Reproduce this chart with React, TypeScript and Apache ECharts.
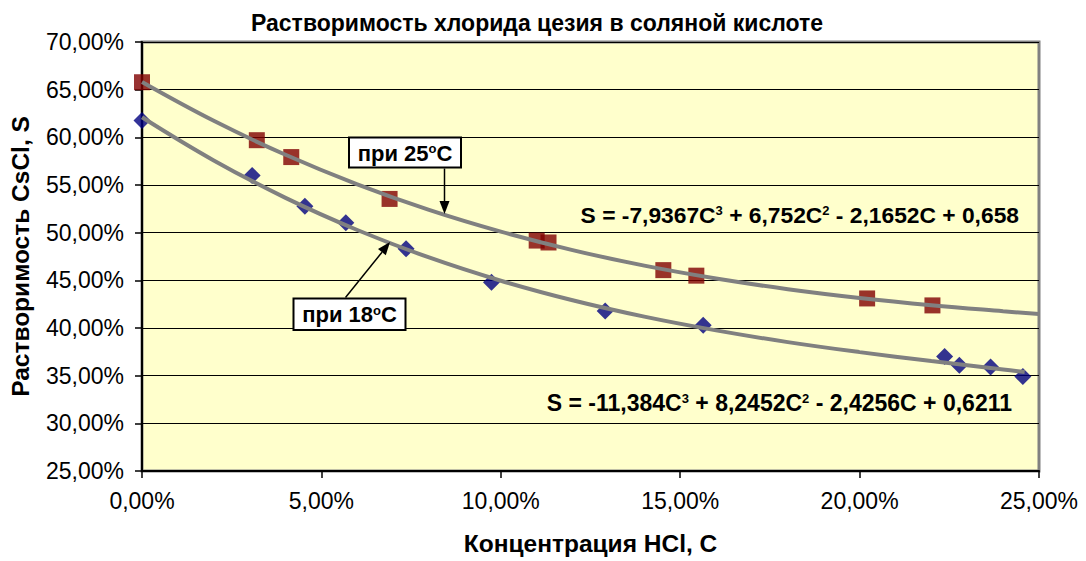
import React, { useEffect, useRef } from "react";
import * as echarts from "echarts";

// 25 °C data (concentration HCl, %; solubility CsCl, %)
const conc25 = [0, 3.2, 4.16, 6.9, 11.0, 11.33, 14.53, 15.45, 20.21, 22.03];
const sol25 = [65.78, 59.7, 57.93, 53.54, 49.17, 48.97, 46.07, 45.49, 43.1, 42.37];

// 18 °C data
const conc18 = [0, 3.07, 4.54, 5.68, 7.36, 9.74, 12.91, 15.64, 22.37, 22.78, 23.65, 24.55];
const sol18 = [61.77, 56.0, 52.77, 51.03, 48.3, 44.8, 41.78, 40.28, 37.0, 36.1, 35.9, 34.91];

// Trend lines
const trendX25 = [0, 2, 4, 6, 8, 10, 12, 14, 16, 18, 20, 22, 24, 25];
const trend25 = [65.8, 61.73, 58.17, 55.07, 52.39, 50.11, 48.17, 46.54, 45.19, 44.07, 43.15, 42.39, 41.76, 41.47];
const trendX18 = [0, 2, 4, 6, 8, 10, 12, 14, 16, 18, 20, 22, 24, 24.6];
const trend18 = [62.11, 57.58, 53.65, 50.28, 47.4, 44.96, 42.91, 41.19, 39.75, 38.52, 37.47, 36.53, 35.65, 35.39];

const title = "Растворимость хлорида цезия в соляной кислоте";
const xName = "Концентрация HCl, C";
const yName = "Растворимость CsCl, S";
const eq25 = "S = -7,9367C{sup|3} + 6,752C{sup|2} - 2,1652C + 0,658";
const eq18 = "S = -11,384C{sup|3} + 8,2452C{sup|2} - 2,4256C + 0,6211";
const label25 = "при 25{sup|o}C";
const label18 = "при 18{sup|o}C";

const FONT = "'Liberation Sans', Arial, sans-serif";

const pct = (v: number) => v.toFixed(2).replace(".", ",") + "%";
const zip = (xs: number[], ys: number[]) => xs.map((x, i) => [x, ys[i]]);

export default function App() {
  const ref = useRef<HTMLDivElement>(null);
  useEffect(() => {
    document.body.style.margin = "0";
    const chart = echarts.init(ref.current!, null, { renderer: "svg" });
    const supRich = {
      sup: { fontSize: 13, fontWeight: "bold", fontFamily: FONT, verticalAlign: "top", lineHeight: 22 },
    };
    const boldText = (x: number, y: number, text: string, align: string, size: number) => ({
      type: "text",
      x,
      y,
      z: 110,
      style: {
        text,
        fill: "#000",
        fontSize: size,
        fontWeight: "bold",
        fontFamily: FONT,
        align,
        verticalAlign: "middle",
        lineHeight: 22,
        rich: supRich,
      },
    });
    chart.setOption({
      animation: false,
      backgroundColor: "#ffffff",
      title: {
        text: title,
        left: 246,
        top: 6,
        textStyle: { fontSize: 23, fontWeight: "bold", fontFamily: FONT, color: "#000" },
      },
      grid: {
        left: 137,
        right: 47,
        top: 42,
        bottom: 89,
        show: true,
        backgroundColor: "#FFFFCC",
        borderColor: "#808080",
        borderWidth: 3,
      },
      xAxis: {
        type: "value",
        min: 0,
        max: 25,
        interval: 5,
        name: xName,
        nameLocation: "middle",
        nameGap: 60,
        nameTextStyle: { fontSize: 24.5, fontWeight: "bold", fontFamily: FONT, color: "#000" },
        axisLine: { show: true, onZero: false, lineStyle: { color: "#000", width: 2 } },
        axisTick: { show: true, inside: false, length: 7, lineStyle: { color: "#000", width: 1.5 } },
        axisLabel: { formatter: pct, fontSize: 23, fontFamily: FONT, color: "#000", margin: 18 },
        splitLine: { show: false },
      },
      yAxis: {
        type: "value",
        min: 25,
        max: 70,
        interval: 5,
        name: yName,
        nameLocation: "middle",
        nameGap: 109,
        nameTextStyle: { fontSize: 24.5, fontWeight: "bold", fontFamily: FONT, color: "#000" },
        axisLine: { show: true, onZero: false, lineStyle: { color: "#000", width: 2 } },
        axisTick: { show: true, inside: false, length: 7, lineStyle: { color: "#000", width: 1.5 } },
        axisLabel: { formatter: pct, fontSize: 23, fontFamily: FONT, color: "#000", margin: 18 },
        splitLine: { show: true, lineStyle: { color: "#000", width: 1 } },
      },
      series: [
        {
          name: "при 25°C",
          type: "scatter",
          data: zip(conc25, sol25),
          symbol: "rect",
          symbolSize: 16,
          itemStyle: { color: "#800000" },
          z: 2,
        },
        {
          name: "при 18°C",
          type: "scatter",
          data: zip(conc18, sol18),
          symbol: "diamond",
          symbolSize: 17,
          itemStyle: { color: "#000080" },
          z: 2,
        },
        {
          name: "Тренд 25°C",
          type: "line",
          data: zip(trendX25, trend25),
          smooth: 0.4,
          showSymbol: false,
          lineStyle: { color: "#808080", width: 4 },
          z: 3,
        },
        {
          name: "Тренд 18°C",
          type: "line",
          data: zip(trendX18, trend18),
          smooth: 0.4,
          showSymbol: false,
          lineStyle: { color: "#808080", width: 4 },
          z: 3,
        },
      ],
      graphic: [
        {
          type: "rect",
          z: 100,
          shape: { x: 349, y: 137.5, width: 112, height: 30 },
          style: { fill: "#ffffff", stroke: "#000", lineWidth: 2 },
        },
        boldText(405, 153, label25, "center", 22),
        {
          type: "line",
          z: 100,
          shape: { x1: 444.5, y1: 168.5, x2: 444.5, y2: 203 },
          style: { stroke: "#000", lineWidth: 1.5 },
        },
        {
          type: "polygon",
          z: 100,
          shape: { points: [[439.5, 201], [449.5, 201], [444.5, 214]] },
          style: { fill: "#000" },
        },
        {
          type: "rect",
          z: 100,
          shape: { x: 293.5, y: 298.5, width: 112, height: 31.5 },
          style: { fill: "#ffffff", stroke: "#000", lineWidth: 2 },
        },
        boldText(349.5, 314.5, label18, "center", 22),
        {
          type: "line",
          z: 100,
          shape: { x1: 345.5, y1: 297.5, x2: 382, y2: 252.2 },
          style: { stroke: "#000", lineWidth: 1.5 },
        },
        {
          type: "polygon",
          z: 100,
          shape: { points: [[390, 242], [385.8, 255.3], [378, 249.1]] },
          style: { fill: "#000" },
        },
        boldText(1019, 215, eq25, "right", 22.8),
        boldText(1012, 403, eq18, "right", 23),
      ],
    });
    return () => chart.dispose();
  }, []);
  return <div ref={ref} style={{ width: 1086, height: 561 }} />;
}
